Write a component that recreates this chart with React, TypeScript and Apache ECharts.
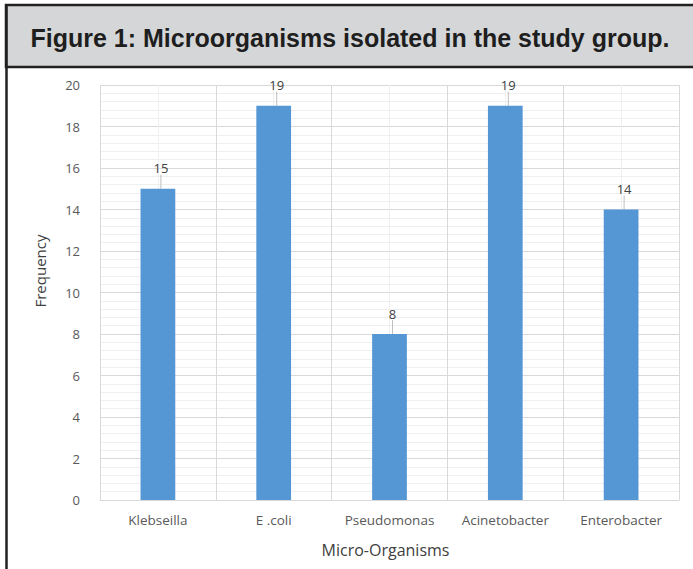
import React, { useEffect, useRef } from "react";
import * as echarts from "echarts";

const categories = ["Klebseilla", "E .coli", "Pseudomonas", "Acinetobacter", "Enterobacter"];
const frequencies = [15, 19, 8, 19, 14];
const titleText = "Figure 1: Microorganisms isolated in the study group.";
const xName = "Micro-Organisms";
const yName = "Frequency";

export default function App() {
  const ref = useRef<HTMLDivElement>(null);
  useEffect(() => {
    document.body.style.margin = "0";
    const chart = echarts.init(ref.current!, null, { renderer: "svg" });
    const font = "'Open Sans', 'Noto Sans', sans-serif";
    chart.setOption({
      animation: false,
      backgroundColor: "#ffffff",
      graphic: [
        {
          type: "rect",
          shape: { x: 6, y: 5, width: 700, height: 62 },
          style: { fill: "#d5d6d8", stroke: "#222222", lineWidth: 2.5 },
          z: 10,
        },
        {
          type: "line",
          shape: { x1: 6.5, y1: 5, x2: 6.5, y2: 569 },
          style: { stroke: "#222222", lineWidth: 2.5 },
          z: 10,
        },
        {
          type: "text",
          x: 350,
          y: 38,
          style: {
            text: titleText,
            fill: "#1e1e1e",
            font: "bold 25px 'Liberation Sans', Arial, sans-serif",
            textAlign: "center",
            textVerticalAlign: "middle",
          },
          z: 11,
        },
        {
          type: "text",
          x: 40,
          y: 271,
          rotation: Math.PI / 2,
          style: {
            text: yName,
            fill: "#404040",
            font: "15px 'Open Sans', 'Noto Sans', sans-serif",
            textAlign: "center",
            textVerticalAlign: "middle",
          },
          z: 11,
        },
      ],
      grid: { left: 100, right: 14, top: 85, bottom: 69, containLabel: false },
      xAxis: [
        {
          type: "category",
          data: categories,
          axisLine: { show: true, lineStyle: { color: "#d9d9d9" } },
          axisTick: { show: false },
          splitLine: { show: true, interval: 0, lineStyle: { color: "#d9d9d9", width: 1 } },
          axisLabel: { interval: 0, hideOverlap: false, color: "#595959", fontSize: 13.5, fontFamily: font, margin: 13 },
          name: xName,
          nameLocation: "middle",
          nameGap: 42,
          nameTextStyle: { color: "#404040", fontSize: 16, fontFamily: font, padding: [0, 8, 0, 0] },
          z: 2,
        },
        {
          type: "value",
          min: 0,
          max: 10,
          interval: 1,
          show: true,
          position: "top",
          axisLine: { show: false },
          axisTick: { show: false },
          axisLabel: { show: false },
          splitLine: { show: true, lineStyle: { color: "#efefef", width: 1 } },
        },
      ],
      yAxis: {
        type: "value",
        min: 0,
        max: 20,
        interval: 2,
        axisLine: { show: false },
        axisTick: { show: false },
        axisLabel: { color: "#595959", fontSize: 13, fontFamily: font, margin: 20 },
        splitLine: { show: true, lineStyle: { color: "#d9d9d9", width: 1 } },
        minorTick: { show: false, splitNumber: 5 },
        minorSplitLine: { show: true, lineStyle: { color: "#efefef", width: 1 } },
      },
      series: [
        {
          type: "bar",
          xAxisIndex: 0,
          data: frequencies,
          barWidth: "30%",
          itemStyle: { color: "#5596d4" },
          label: {
            show: true,
            position: "top",
            distance: 4,
            color: "#404040",
            fontSize: 13,
            fontFamily: font,
          },
          labelLayout: { dy: -10, dx: 3 },
          labelLine: { show: true, lineStyle: { color: "#bfbfbf", width: 1 } },
          z: 3,
        },
      ],
    });
    return () => chart.dispose();
  }, []);
  return <div ref={ref} style={{ width: 693, height: 569 }} />;
}
